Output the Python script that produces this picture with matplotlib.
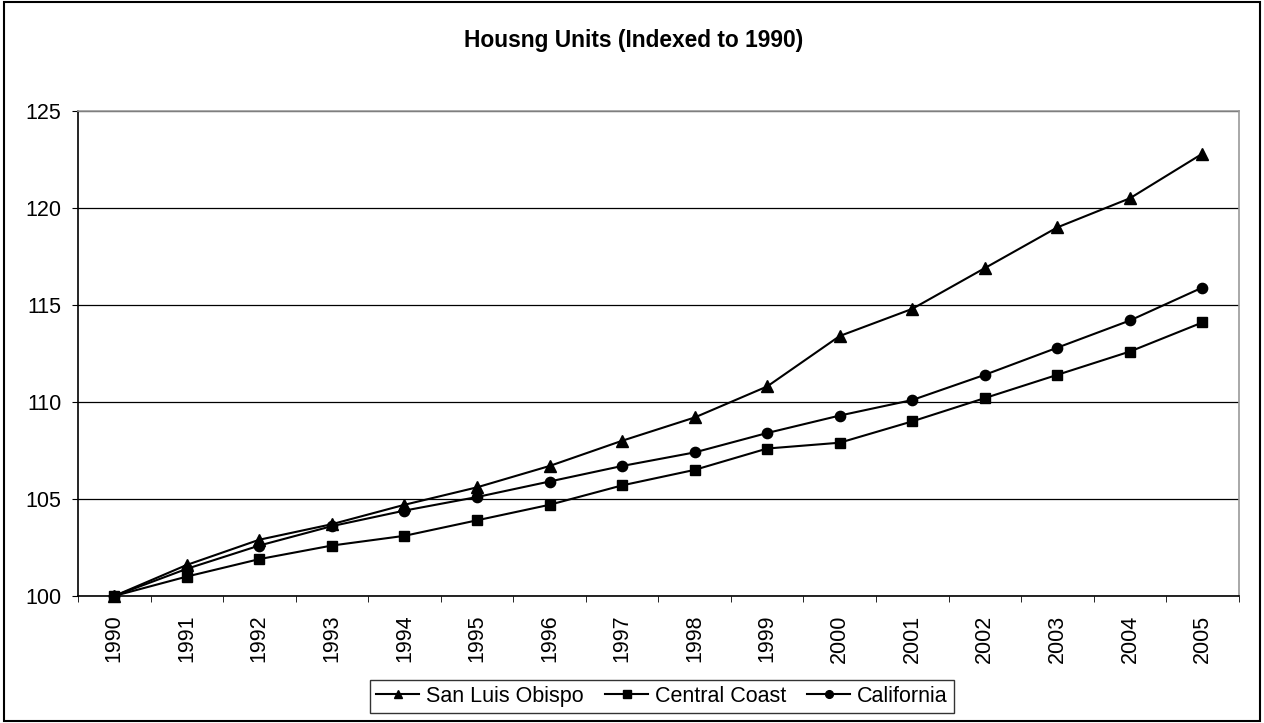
import matplotlib
matplotlib.use("Agg")
import matplotlib.pyplot as plt
from matplotlib.patches import Rectangle

plt.rcParams['font.family'] = ['Liberation Sans', 'DejaVu Sans']

# Housing units indexed to 1990
years = [str(y) for y in range(1990, 2006)]
slo = [100.0, 101.6, 102.9, 103.7, 104.7, 105.6, 106.7, 108.0, 109.2, 110.8,
       113.4, 114.8, 116.9, 119.0, 120.5, 122.8]
central_coast = [100.0, 101.0, 101.9, 102.6, 103.1, 103.9, 104.7, 105.7, 106.5, 107.6,
                 107.9, 109.0, 110.2, 111.4, 112.6, 114.1]
california = [100.0, 101.4, 102.6, 103.6, 104.4, 105.1, 105.9, 106.7, 107.4, 108.4,
              109.3, 110.1, 111.4, 112.8, 114.2, 115.9]
yticks = [100, 105, 110, 115, 120, 125]


def plot_chart():
    fig = plt.figure(figsize=(12.64, 7.23), dpi=100)
    ax = fig.add_axes([0.0617, 0.1757, 0.9183, 0.6708])

    x = list(range(len(years)))
    ax.plot(x, slo, color='black', lw=1.5, marker='^', ms=8.6, label='San Luis Obispo', clip_on=False, zorder=3)
    ax.plot(x, central_coast, color='black', lw=1.5, marker='s', ms=7.2, label='Central Coast', clip_on=False, zorder=3)
    ax.plot(x, california, color='black', lw=1.5, marker='o', ms=7.4, label='California', clip_on=False, zorder=3)

    ax.set_xlim(-0.5, len(years) - 0.5)
    ax.set_ylim(100, 125)
    ax.set_yticks(yticks)
    ax.set_yticklabels([str(v) for v in yticks], fontsize=15.5)
    ax.set_xticks(x)
    ax.set_xticklabels(years, rotation=90, fontsize=15.5)
    ax.tick_params(axis='x', length=0, pad=13.5)
    ax.set_xticks([i - 0.5 for i in range(len(years) + 1)], minor=True)
    ax.tick_params(axis='x', which='minor', length=4.5, direction='out', color='black')
    ax.tick_params(axis='y', length=4.5, direction='out', color='black', pad=7.5)

    ax.grid(axis='y', color='black', lw=0.9)
    ax.set_axisbelow(True)
    ax.spines['top'].set_color('#999999')
    ax.spines['right'].set_color('#999999')
    ax.spines['left'].set_color('black')
    ax.spines['bottom'].set_color('black')
    for s in ax.spines.values():
        s.set_linewidth(1.2)

    fig.text(0.501, 1 - 46.5 / 723, 'Housng Units (Indexed to 1990)', ha='center', va='baseline',
             fontsize=16.4, fontweight='bold')

    leg = fig.legend(loc='center', bbox_to_anchor=(0.5237, 0.0367), ncol=3, fontsize=15.5,
                     frameon=True, fancybox=False, edgecolor='black', handlelength=2.0,
                     handletextpad=0.3, columnspacing=1.0, borderpad=0.3, borderaxespad=0,
                     markerscale=0.75)
    leg.get_frame().set_linewidth(1.0)

    fig.patches.append(Rectangle((4 / 1264, 2 / 723), 1256 / 1264, 719 / 723, transform=fig.transFigure,
                                 fill=False, edgecolor='black', lw=1.5))
    fig.savefig('out.png', dpi=100)


def main():
    plot_chart()


if __name__ == "__main__":
    main()
